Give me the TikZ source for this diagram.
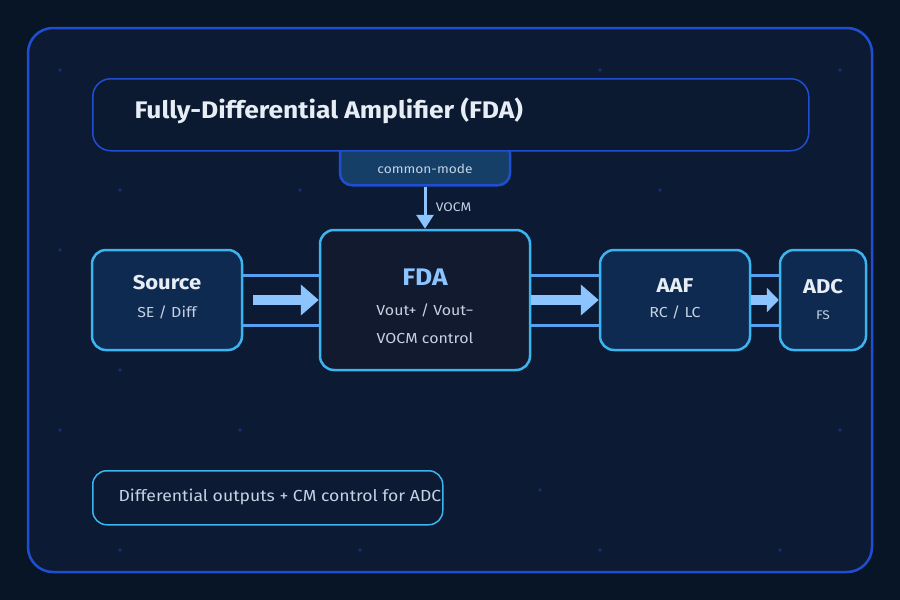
\documentclass[tikz,border=0pt]{standalone}
\usepackage{fontspec}
\setmainfont{Fira Sans}[FakeStretch=1.1]
\usetikzlibrary{arrows.meta,positioning}
\definecolor{bgout}{HTML}{081527}
\definecolor{bgin}{HTML}{0C1A33}
\definecolor{frameblue}{HTML}{1F4FD0}
\definecolor{cyanline}{HTML}{3CB4F0}
\definecolor{wireblue}{HTML}{5AA0F0}
\definecolor{arrowblue}{HTML}{8CC4FF}
\definecolor{boxfill}{HTML}{0F2A50}
\definecolor{fdafill}{HTML}{111A2E}
\definecolor{txtmain}{HTML}{E6EDF5}
\definecolor{txtsub}{HTML}{C4D2E4}
\tikzset{
  block/.style={draw=cyanline, line width=2.5pt, fill=boxfill, rounded corners=14pt, text=txtmain, align=center},
  wire/.style={draw=wireblue, line width=3pt},
  bigarrow/.style={draw=arrowblue, line width=10pt, -{Triangle[length=18pt,width=30pt]}},
  title/.style={font=\fontsize{20}{24}\selectfont\bfseries, text=txtmain},
  sub/.style={font=\fontsize{14.5}{17}\selectfont, text=txtsub}
}
\begin{document}
\begin{tikzpicture}[x=1pt,y=-1pt]
\fill[bgout] (0,0) rectangle (900,600);
\draw[frameblue, line width=2.5pt, fill=bgin, rounded corners=25pt] (28,28) rectangle (872,572);
% background dots
\foreach \px/\py in {60/70,600/70,840/70,120/190,300/190,660/190,60/250,120/370,60/430,540/490,120/550,360/550,600/550,780/550,840/430,240/430}
  \fill[frameblue!40!bgin] (\px,\py) circle (1.8pt);
% common-mode tab and header
\node[draw=frameblue, line width=2.5pt, fill=boxfill!85!cyanline, rounded corners=12pt, minimum width=170pt, minimum height=44pt,
  text depth=0pt, sub, font=\fontsize{12.5}{14}\selectfont, anchor=north] (cm) at (425,140) {\raisebox{-10pt}{common-mode}};
\node[draw=frameblue, line width=1.5pt, fill=bgin!80!bgout, rounded corners=18pt, minimum width=716pt, minimum height=72pt, anchor=north west] (hdr) at (92,78) {};
\node[title, font=\fontsize{24}{28}\selectfont\bfseries, anchor=west] (hdrtext) at (131,111) {Fully-Differential Amplifier (FDA)};
% blocks
\node[block, minimum width=150pt, minimum height=100pt] (src) at (167,300) {};
\node[title] at (167,283) {Source};
\node[sub] at (167,312) {SE / Diff};
\node[block, fill=fdafill, minimum width=210pt, minimum height=140pt] (fda) at (425,300) {};
\node[title, font=\fontsize{24}{28}\selectfont\bfseries, text=arrowblue] at (425,277) {FDA};
\node[sub] at (425,310) {Vout+ / Vout−};
\node[sub] at (425,338) {VOCM control};
\node[block, minimum width=150pt, minimum height=100pt] (aaf) at (675,300) {};
\node[title] at (675,286) {AAF};
\node[sub] at (675,312) {RC / LC};
\node[block, minimum width=86pt, minimum height=100pt] (adc) at (823,300) {};
\node[title] at (823,287) {ADC};
\node[sub, font=\fontsize{12.5}{14}\selectfont] at (823,315) {FS};
% VOCM feed
\draw[arrowblue, line width=3pt, -{Triangle[length=14pt,width=17pt]}] (cm.south) -- node[right=6pt, sub, font=\fontsize{12.5}{14}\selectfont] {VOCM} (fda.north);
% differential pairs
\foreach \a/\b in {src/fda,fda/aaf,aaf/adc}{
  \draw[wire] ([yshift=25pt]\a.east) -- ([yshift=25pt]\b.west);
  \draw[wire] ([yshift=-25pt]\a.east) -- ([yshift=-25pt]\b.west);
}
\draw[bigarrow] ([xshift=10pt]src.east) -- (fda.west);
\draw[bigarrow] (fda.east) -- (aaf.west);
\draw[bigarrow, -{Triangle[length=12pt,width=24pt]}] (aaf.east) -- (adc.west);
% note
\node[draw=cyanline, line width=1.5pt, fill=bgin, rounded corners=14pt, minimum width=350pt, minimum height=54pt, anchor=north west] (note) at (92,470) {};
\node[sub, font=\fontsize{16}{19}\selectfont, anchor=west] at (115,497) {Differential outputs + CM control for ADC};
\end{tikzpicture}
\end{document}
